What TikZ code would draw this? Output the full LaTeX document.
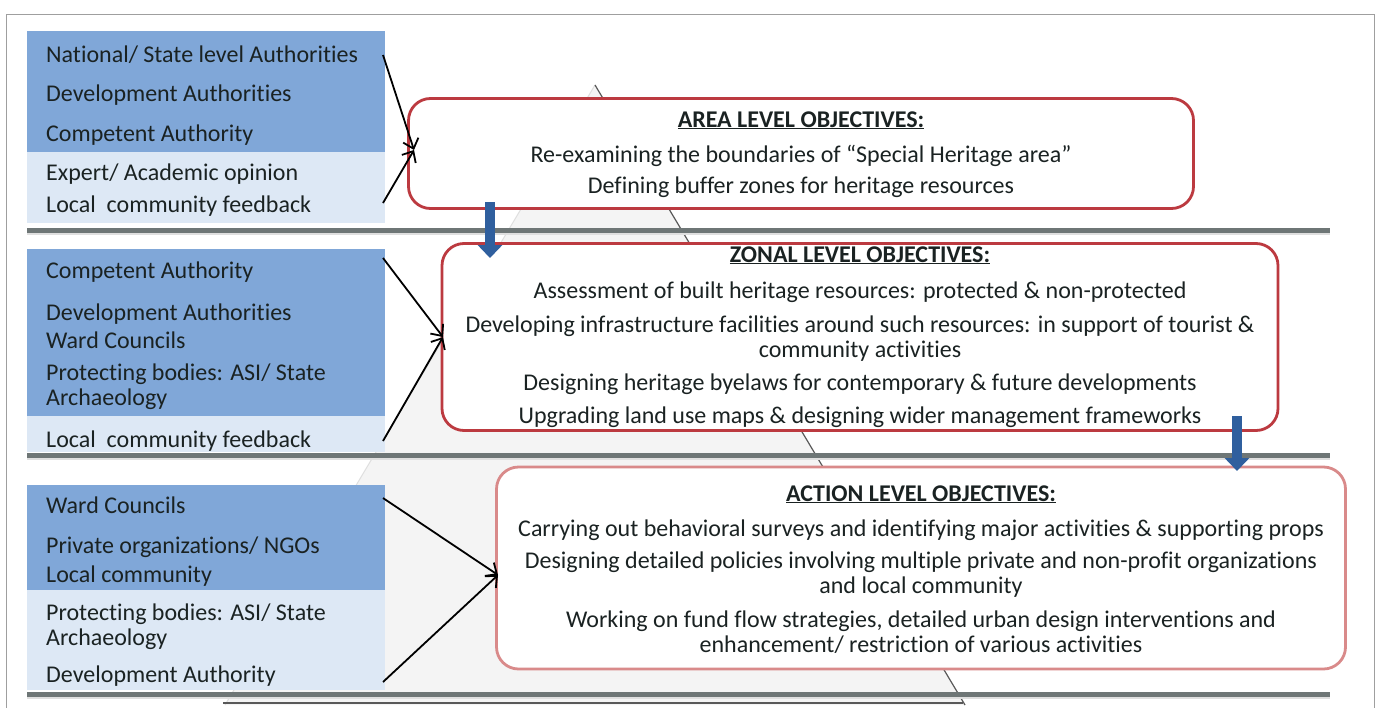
\documentclass[tikz,border=0pt]{standalone}
\usepackage{fontspec}
\setmainfont{Carlito}[Ligatures=NoCommon]
\usetikzlibrary{arrows.meta}

\definecolor{srcdark}{HTML}{80A7D8}
\definecolor{srclight}{HTML}{DDE8F5}
\definecolor{objred}{HTML}{BC3A40}
\definecolor{objpink}{HTML}{D98A8A}
\definecolor{shelf}{HTML}{6E7676}
\definecolor{flowblue}{HTML}{2F5F9E}
\definecolor{txt}{HTML}{1A2222}

\tikzset{
  srcline/.style={anchor=base west, text=txt, inner sep=0pt, font=\fontsize{24}{28}\selectfont},
  objline/.style={anchor=base, text=txt, inner sep=0pt, font=\fontsize{24}{28}\selectfont},
  objhead/.style={objline, font=\fontsize{24}{28}\selectfont\bfseries},
  objbox/.style={draw=objred, line width=2.8pt, rounded corners=22pt, fill=white, inner sep=0pt},
  srcbox/.style={anchor=north west, inner sep=0pt, minimum width=358},
  feed/.style={-{Straight Barb[length=9pt,width=16pt]}, line width=1.8pt, black},
  flow/.style={-{Triangle[length=13pt,width=24pt]}, line width=10pt, flowblue},
  shelfbar/.style={fill=shelf, draw=none}
}

\begin{document}
\begin{tikzpicture}[x=1pt,y=-1pt]
  \useasboundingbox (0,0) rectangle (1378,707);
  \clip (0,0) rectangle (1378,707);
  \fill[white] (0,0) rectangle (1378,707);

  %%%%%%%%%%%%%%%%%%%%%%%%%%%%%%%%%%%%%%%%%%%%%%%%%%%%%%%%%%%%%%%%%%%%%%%%%%%
  %%%%  Frame and pyramid
  \draw[gray!75, line width=1pt] (6,720) -- (6,14) -- (1374,14) -- (1374,720);
  \fill[gray!9] (595,85) -- (965,705) -- (225,705) -- cycle;
  \draw[gray!25, line width=1pt] (225,705) -- (595,85);
  \draw[gray!70!black, line width=1.2pt] (595,85) -- (965,705);
  \draw[gray!70!black, line width=1.6pt] (223,703) -- (963,703);

  %%%%%%%%%%%%%%%%%%%%%%%%%%%%%%%%%%%%%%%%%%%%%%%%%%%%%%%%%%%%%%%%%%%%%%%%%%%
  %%%%  Shelves
  \foreach \yy in {228,453,692}
   {\fill[gray!25] (27,\yy+5) rectangle (1330,\yy+7);
    \fill[shelfbar] (27,\yy) rectangle (1330,\yy+5);};

  %%%%%%%%%%%%%%%%%%%%%%%%%%%%%%%%%%%%%%%%%%%%%%%%%%%%%%%%%%%%%%%%%%%%%%%%%%%
  %%%%  Stakeholder boxes
  \node[srcbox, fill=srcdark,  minimum height=121] (srcA) at (27,31) {};
  \node[srcbox, fill=srclight, minimum height=71]  (srcAlow) at (27,152) {};
  \node[srcbox, fill=srcdark,  minimum height=167] (srcB) at (27,249) {};
  \node[srcbox, fill=srclight, minimum height=36]  (srcBlow) at (27,416) {};
  \node[srcbox, fill=srcdark,  minimum height=105] (srcC) at (27,485) {};
  \node[srcbox, fill=srclight, minimum height=100] (srcClow) at (27,590) {};

  \foreach \yy/\txt [count=\i] in {62/{National/ State level Authorities},
      101/Development Authorities, 141/Competent Authority,
      180/{Expert/ Academic opinion}, 212/Local\ \ community feedback}
    {\node[srcline] (lineA\i) at (46,\yy) {\txt};}
  \foreach \yy/\txt [count=\i] in {278/Competent Authority,
      320/Development Authorities, 348/Ward Councils,
      380/{Protecting bodies: ASI/ State}, 405/Archaeology,
      447/Local\ \ community feedback}
    {\node[srcline] (lineB\i) at (46,\yy) {\txt};}
  \foreach \yy/\txt [count=\i] in {513/Ward Councils,
      553/{Private organizations/ NGOs}, 582/Local community,
      620/{Protecting bodies: ASI/ State}, 645/Archaeology,
      682/Development Authority}
    {\node[srcline] (lineC\i) at (46,\yy) {\txt};}

  %%%%%%%%%%%%%%%%%%%%%%%%%%%%%%%%%%%%%%%%%%%%%%%%%%%%%%%%%%%%%%%%%%%%%%%%%%%
  %%%%  Objective boxes
  \node[objbox, minimum width=785, minimum height=110] (area) at (801,153.5) {};
  \node[objbox, minimum width=836, minimum height=187] (zonal) at (860,337) {};
  \node[objbox, draw=objpink, minimum width=849, minimum height=202] (action) at (921,568) {};

  \node[objhead] (areaHead) at (801,127) {\underline{AREA LEVEL OBJECTIVES:}};
  \node[objline] (area1) at (801,162) {Re-examining the boundaries of “Special Heritage area”};
  \node[objline] (area2) at (801,193) {Defining buffer zones for heritage resources};

  \node[objhead] (zonalHead) at (860,262) {\underline{ZONAL LEVEL OBJECTIVES:}};
  \node[objline] (zonal1) at (860,298) {Assessment of built heritage resources: protected \& non-protected};
  \node[objline] (zonal2) at (860,332) {Developing infrastructure facilities around such resources: in support of tourist \&};
  \node[objline] (zonal3) at (860,357) {community activities};
  \node[objline] (zonal4) at (860,390) {Designing heritage byelaws for contemporary \& future developments};
  \node[objline] (zonal5) at (860,423) {Upgrading land use maps \& designing wider management frameworks};

  \node[objhead] (actionHead) at (921,501) {\underline{ACTION LEVEL OBJECTIVES:}};
  \node[objline] (action1) at (921,536) {Carrying out behavioral surveys and identifying major activities \& supporting props};
  \node[objline] (action2) at (921,568) {Designing detailed policies involving multiple private and non-profit organizations};
  \node[objline] (action3) at (921,593) {and local community};
  \node[objline] (action4) at (921,627) {Working on fund flow strategies, detailed urban design interventions and};
  \node[objline] (action5) at (921,652) {enhancement/ restriction of various activities};

  %%%%%%%%%%%%%%%%%%%%%%%%%%%%%%%%%%%%%%%%%%%%%%%%%%%%%%%%%%%%%%%%%%%%%%%%%%%
  %%%%  Connectors
  \coordinate (feedA1) at (383,55);  \coordinate (feedA2) at (383,203);
  \coordinate (feedB1) at (383,258); \coordinate (feedB2) at (383,441);
  \coordinate (feedC1) at (383,498); \coordinate (feedC2) at (383,682);
  \coordinate (areaIn) at (414,150);
  \coordinate (zonalIn) at (443,337);
  \coordinate (actionIn) at (498,575);

  \foreach \lvl/\obj in {A/areaIn,B/zonalIn,C/actionIn}
   {\draw[feed] (feed\lvl1) -- (\obj);
    \draw[feed] (feed\lvl2) -- (\obj);};

  \coordinate (areaOut) at (490,202);   \coordinate (zonalTop) at (490,258);
  \coordinate (zonalOut) at (1237,416); \coordinate (actionTop) at (1237,471);
  \draw[flow] (areaOut) -- (zonalTop);
  \draw[flow] (zonalOut) -- (actionTop);
\end{tikzpicture}
\end{document}
